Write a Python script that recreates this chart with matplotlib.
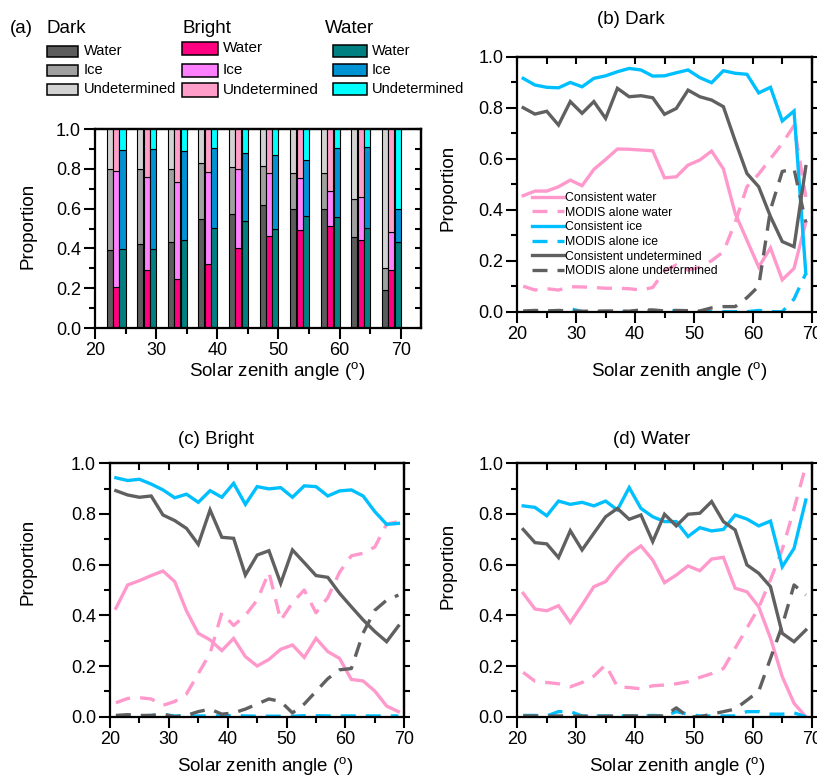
import numpy as np
import matplotlib
matplotlib.use('Agg')
import matplotlib.pyplot as plt
from matplotlib.patches import Rectangle

plt.rcParams['font.family'] = ['Liberation Sans', 'DejaVu Sans']
plt.rcParams['mathtext.fontset'] = 'custom'
plt.rcParams['mathtext.rm'] = 'Liberation Sans'
plt.rcParams['mathtext.it'] = 'Liberation Sans:italic'

# ---- panel (a): stacked bars per 5-degree bin ----
bins = [20, 25, 30, 35, 40, 45, 50, 55, 60, 65]
dark_water = [0.39, 0.42, 0.43, 0.55, 0.575, 0.62, 0.60, 0.60, 0.455, 0.19]
dark_ice = [0.41, 0.38, 0.37, 0.28, 0.235, 0.195, 0.18, 0.18, 0.195, 0.11]
dark_und = [0.20, 0.20, 0.20, 0.17, 0.19, 0.185, 0.22, 0.22, 0.35, 0.70]
bright_water = [0.205, 0.29, 0.245, 0.32, 0.40, 0.46, 0.49, 0.515, 0.44, 0.29]
bright_ice = [0.585, 0.47, 0.49, 0.465, 0.40, 0.32, 0.265, 0.175, 0.22, 0.19]
bright_und = [0.21, 0.24, 0.265, 0.215, 0.20, 0.22, 0.245, 0.31, 0.34, 0.52]
water_water = [0.395, 0.395, 0.44, 0.505, 0.54, 0.495, 0.565, 0.56, 0.505, 0.43]
water_ice = [0.50, 0.505, 0.45, 0.40, 0.34, 0.375, 0.28, 0.345, 0.405, 0.17]
water_und = [0.105, 0.10, 0.11, 0.095, 0.12, 0.13, 0.155, 0.095, 0.09, 0.40]

# ---- panels (b)-(d): proportions vs solar zenith angle ----
sza = [21, 23, 25, 27, 29, 31, 33, 35, 37, 39, 41, 43, 45, 47, 49, 51, 53, 55, 57, 59, 61, 63, 65, 67, 69]

b_cons_water = [0.455, 0.473, 0.473, 0.49, 0.516, 0.494, 0.558, 0.597, 0.638, 0.637, 0.634, 0.631, 0.525,
                0.529, 0.575, 0.595, 0.63, 0.56, 0.386, 0.28, 0.175, 0.25, 0.125, 0.17, 0.35]
b_modis_water = [0.10, 0.085, 0.09, 0.085, 0.098, 0.097, 0.095, 0.092, 0.092, 0.09, 0.085, 0.095, 0.16,
                 0.183, 0.163, 0.175, 0.20, 0.235, 0.35, 0.49, 0.54, 0.60, 0.66, 0.73, 0.45]
b_cons_ice = [0.915, 0.889, 0.88, 0.878, 0.899, 0.882, 0.915, 0.925, 0.941, 0.954, 0.948, 0.924, 0.925,
              0.937, 0.948, 0.918, 0.898, 0.945, 0.935, 0.931, 0.858, 0.88, 0.748, 0.787, 0.15]
b_modis_ice = [0.0, 0.0, 0.003, 0.0, 0.012, 0.0, 0.0, 0.0, 0.0, 0.0, 0.005, 0.003, 0.0,
               0.003, 0.0, 0.0, 0.0, 0.0, 0.0, 0.0, 0.005, 0.0, 0.0, 0.05, 0.15]
b_cons_und = [0.80, 0.775, 0.786, 0.732, 0.824, 0.778, 0.824, 0.758, 0.876, 0.843, 0.847, 0.839, 0.774,
              0.797, 0.869, 0.843, 0.83, 0.804, 0.67, 0.542, 0.49, 0.373, 0.275, 0.255, 0.569]
b_modis_und = [0.003, 0.005, 0.003, 0.005, 0.003, 0.002, 0.002, 0.003, 0.003, 0.002, 0.007, 0.007, 0.003,
               0.005, 0.004, 0.003, 0.015, 0.02, 0.02, 0.055, 0.10, 0.40, 0.55, 0.56, 0.35]

c_cons_water = [0.428, 0.52, 0.537, 0.557, 0.575, 0.533, 0.417, 0.329, 0.303, 0.261, 0.309, 0.237, 0.20,
                0.226, 0.266, 0.283, 0.234, 0.309, 0.257, 0.23, 0.147, 0.141, 0.101, 0.042, 0.02]
c_modis_water = [0.055, 0.072, 0.075, 0.07, 0.045, 0.06, 0.09, 0.17, 0.25, 0.41, 0.36, 0.40, 0.46,
                 0.57, 0.38, 0.45, 0.50, 0.41, 0.47, 0.57, 0.635, 0.645, 0.67, 0.76, 0.77]
c_cons_ice = [0.943, 0.932, 0.937, 0.918, 0.895, 0.864, 0.878, 0.846, 0.892, 0.866, 0.921, 0.838, 0.908,
              0.899, 0.904, 0.866, 0.911, 0.908, 0.871, 0.891, 0.895, 0.871, 0.809, 0.759, 0.763]
c_modis_ice = [0.003, 0.003, 0.003, 0.005, 0.008, 0.003, 0.003, 0.003, 0.003, 0.003, 0.005, 0.003, 0.002,
               0.002, 0.002, 0.002, 0.004, 0.004, 0.003, 0.003, 0.003, 0.003, 0.003, 0.003, 0.003]
c_cons_und = [0.892, 0.875, 0.866, 0.871, 0.796, 0.774, 0.743, 0.68, 0.816, 0.708, 0.704, 0.559, 0.638,
              0.655, 0.526, 0.658, 0.608, 0.557, 0.55, 0.487, 0.434, 0.382, 0.336, 0.296, 0.358]
c_modis_und = [0.005, 0.008, 0.005, 0.005, 0.01, 0.0, 0.005, 0.02, 0.03, 0.01, 0.015, 0.03, 0.05,
               0.07, 0.06, 0.015, 0.05, 0.10, 0.15, 0.185, 0.19, 0.33, 0.42, 0.46, 0.48]

d_cons_water = [0.487, 0.425, 0.418, 0.438, 0.372, 0.441, 0.513, 0.533, 0.592, 0.641, 0.674, 0.618, 0.529,
                0.559, 0.595, 0.576, 0.622, 0.629, 0.507, 0.493, 0.434, 0.31, 0.158, 0.053, 0.0]
d_modis_water = [0.175, 0.14, 0.135, 0.13, 0.118, 0.135, 0.16, 0.205, 0.118, 0.115, 0.11, 0.122, 0.125,
                 0.13, 0.138, 0.155, 0.17, 0.19, 0.27, 0.35, 0.43, 0.54, 0.66, 0.82, 0.99]
d_cons_ice = [0.832, 0.826, 0.793, 0.851, 0.838, 0.846, 0.832, 0.851, 0.816, 0.904, 0.822, 0.789, 0.77,
              0.77, 0.711, 0.746, 0.733, 0.739, 0.796, 0.78, 0.753, 0.772, 0.592, 0.664, 0.855]
d_modis_ice = [0.005, 0.005, 0.003, 0.02, 0.02, 0.003, 0.003, 0.003, 0.003, 0.003, 0.003, 0.005, 0.003,
               0.02, 0.01, 0.003, 0.003, 0.003, 0.003, 0.02, 0.02, 0.01, 0.01, 0.015, 0.0]
d_cons_und = [0.739, 0.687, 0.682, 0.628, 0.734, 0.658, 0.724, 0.789, 0.822, 0.779, 0.796, 0.691, 0.799,
              0.753, 0.799, 0.803, 0.849, 0.77, 0.737, 0.599, 0.566, 0.513, 0.329, 0.296, 0.342]
d_modis_und = [0.003, 0.003, 0.002, 0.003, 0.003, 0.002, 0.002, 0.002, 0.003, 0.003, 0.003, 0.003, 0.003,
               0.035, 0.0, 0.0, 0.01, 0.02, 0.03, 0.065, 0.10, 0.23, 0.36, 0.52, 0.48]

line_labels = ['Consistent water', 'MODIS alone water', 'Consistent ice',
               'MODIS alone ice', 'Consistent undetermined', 'MODIS alone undetermined']

PINK, BLUE, GRAY = '#ff99cc', '#00bfff', '#606060'
dark_cols = ['#5c5c5c', '#a0a0a0', '#d2d2d2']
bright_cols = ['#ff0080', '#ff80ff', '#ff9ec9']
water_cols = ['#008080', '#0093d3', '#00ffff']

W, H = 817, 780


def fx(px):
    return px / W


def fy(py):
    return 1 - py / H


def box(l, t, r, b):
    return [fx(l), fy(b), fx(r) - fx(l), fy(t) - fy(b)]


def style_axes(ax, xmax, right_dir):
    ax.set_xlim(20, xmax)
    ax.set_ylim(0, 1)
    ax.set_xticks([20, 30, 40, 50, 60, 70])
    ax.set_xticks([25, 35, 45, 55, 65], minor=True)
    ax.set_yticks(np.arange(0, 1.01, 0.2))
    ax.set_yticks(np.arange(0.1, 1, 0.2), minor=True)
    ax.yaxis.set_major_formatter('{x:.1f}')
    ax.tick_params(which='major', direction='out', length=8, width=1.5, labelsize=13,
                   top=False, right=False, pad=2)
    ax.tick_params(which='minor', direction='out', length=4.5, width=1.5, top=False, right=False)
    for s in ax.spines.values():
        s.set_linewidth(1.6)
    top = ax.secondary_xaxis('top')
    top.set_xticks(list(range(20, 71, 5)))
    top.tick_params(direction='in', length=5, width=1.5, labeltop=False, labelbottom=False)
    top.spines['top'].set_linewidth(1.6)
    right = ax.secondary_yaxis('right')
    right.set_yticks(np.arange(0, 1.01, 0.1))
    right.tick_params(direction=right_dir, length=4.5, width=1.5, labelright=False, labelleft=False)
    right.spines['right'].set_linewidth(1.6)


def line_panel(ax, series):
    cols = [PINK, PINK, BLUE, BLUE, GRAY, GRAY]
    for vals, col, lab, k in zip(series, cols, line_labels, range(6)):
        if k % 2 == 0:
            ax.plot(sza, vals, color=col, lw=2.4, label=lab, solid_joinstyle='miter')
        else:
            ax.plot(sza, vals, color=col, lw=2.4, dashes=(4.5, 3), label=lab)


fig = plt.figure(figsize=(W / 100, H / 100), dpi=100)

# (a)
ax_a = fig.add_axes(box(95, 129, 421, 328))
bins_arr = np.array(bins)
for vals, cols, off in [((dark_water, dark_ice, dark_und), dark_cols, 2.4),
                        ((bright_water, bright_ice, bright_und), bright_cols, 3.45),
                        ((water_water, water_ice, water_und), water_cols, 4.5)]:
    bottom = np.zeros(len(bins))
    for v, c in zip(vals, cols):
        ax_a.bar(bins_arr + off, v, width=1.0, bottom=bottom, color=c,
                 edgecolor='black', linewidth=0.8)
        bottom = bottom + np.array(v)
style_axes(ax_a, 73.3, 'in')

# (b) (c) (d)
ax_b = fig.add_axes(box(517.3, 56.7, 811.7, 311.7))
line_panel(ax_b, [b_cons_water, b_modis_water, b_cons_ice, b_modis_ice, b_cons_und, b_modis_und])
style_axes(ax_b, 70, 'out')
ax_b.legend(loc='upper left', bbox_to_anchor=(0.049, 0.47), frameon=False, fontsize=8.8,
            handlelength=2.65, handletextpad=0.05, labelspacing=0.22, borderpad=0, borderaxespad=0)

ax_c = fig.add_axes(box(110, 463.3, 404.3, 716.7))
line_panel(ax_c, [c_cons_water, c_modis_water, c_cons_ice, c_modis_ice, c_cons_und, c_modis_und])
style_axes(ax_c, 70, 'out')

ax_d = fig.add_axes(box(517.3, 463.3, 811.7, 716.7))
line_panel(ax_d, [d_cons_water, d_modis_water, d_cons_ice, d_modis_ice, d_cons_und, d_modis_und])
style_axes(ax_d, 70, 'out')

# titles and axis labels
xlab = r'Solar zenith angle ($^{\rm o}$)'
fig.text(fx(631), fy(19), '(b) Dark', ha='center', va='center', fontsize=13.5)
fig.text(fx(216), fy(439), '(c) Bright', ha='center', va='center', fontsize=13.5)
fig.text(fx(652), fy(439), '(d) Water', ha='center', va='center', fontsize=13.5)
for x, y in [(277, 371), (679, 371), (265, 766), (677, 766)]:
    fig.text(fx(x), fy(y), xlab, ha='center', va='center', fontsize=13.5)
for x, y in [(27.5, 226), (447.5, 188), (27.5, 562), (447.5, 566)]:
    fig.text(fx(x), fy(y), 'Proportion', ha='center', va='center', rotation=90, fontsize=13.5)

# legend of panel (a)
fig.text(fx(10), fy(33), '(a)', ha='left', va='baseline', fontsize=13.5)
legend_groups = [
    ('Dark', 47, 78, 84, [51, 70, 89], 11, 10.5, dark_cols),
    ('Bright', 182, 218, 223, [48.5, 70.5, 90], 13, 11, bright_cols),
    ('Water', 333, 367, 372, [51, 70, 89], 12, 10.5, water_cols),
]
head_x = {'Dark': 47, 'Bright': 183, 'Water': 325}
for name, x0, x1, xt, rows, h, fs, cols in legend_groups:
    fig.text(fx(head_x[name]), fy(33), name, ha='left', va='baseline', fontsize=13.5)
    for yc, c, lab in zip(rows, cols, ['Water', 'Ice', 'Undetermined']):
        fig.add_artist(Rectangle((fx(x0), fy(yc + h / 2)), fx(x1) - fx(x0), h / H,
                                 transform=fig.transFigure, facecolor=c,
                                 edgecolor='black', linewidth=1.1))
        fig.text(fx(xt), fy(yc), lab, ha='left', va='center', fontsize=fs)

fig.savefig('out.png', dpi=100)
